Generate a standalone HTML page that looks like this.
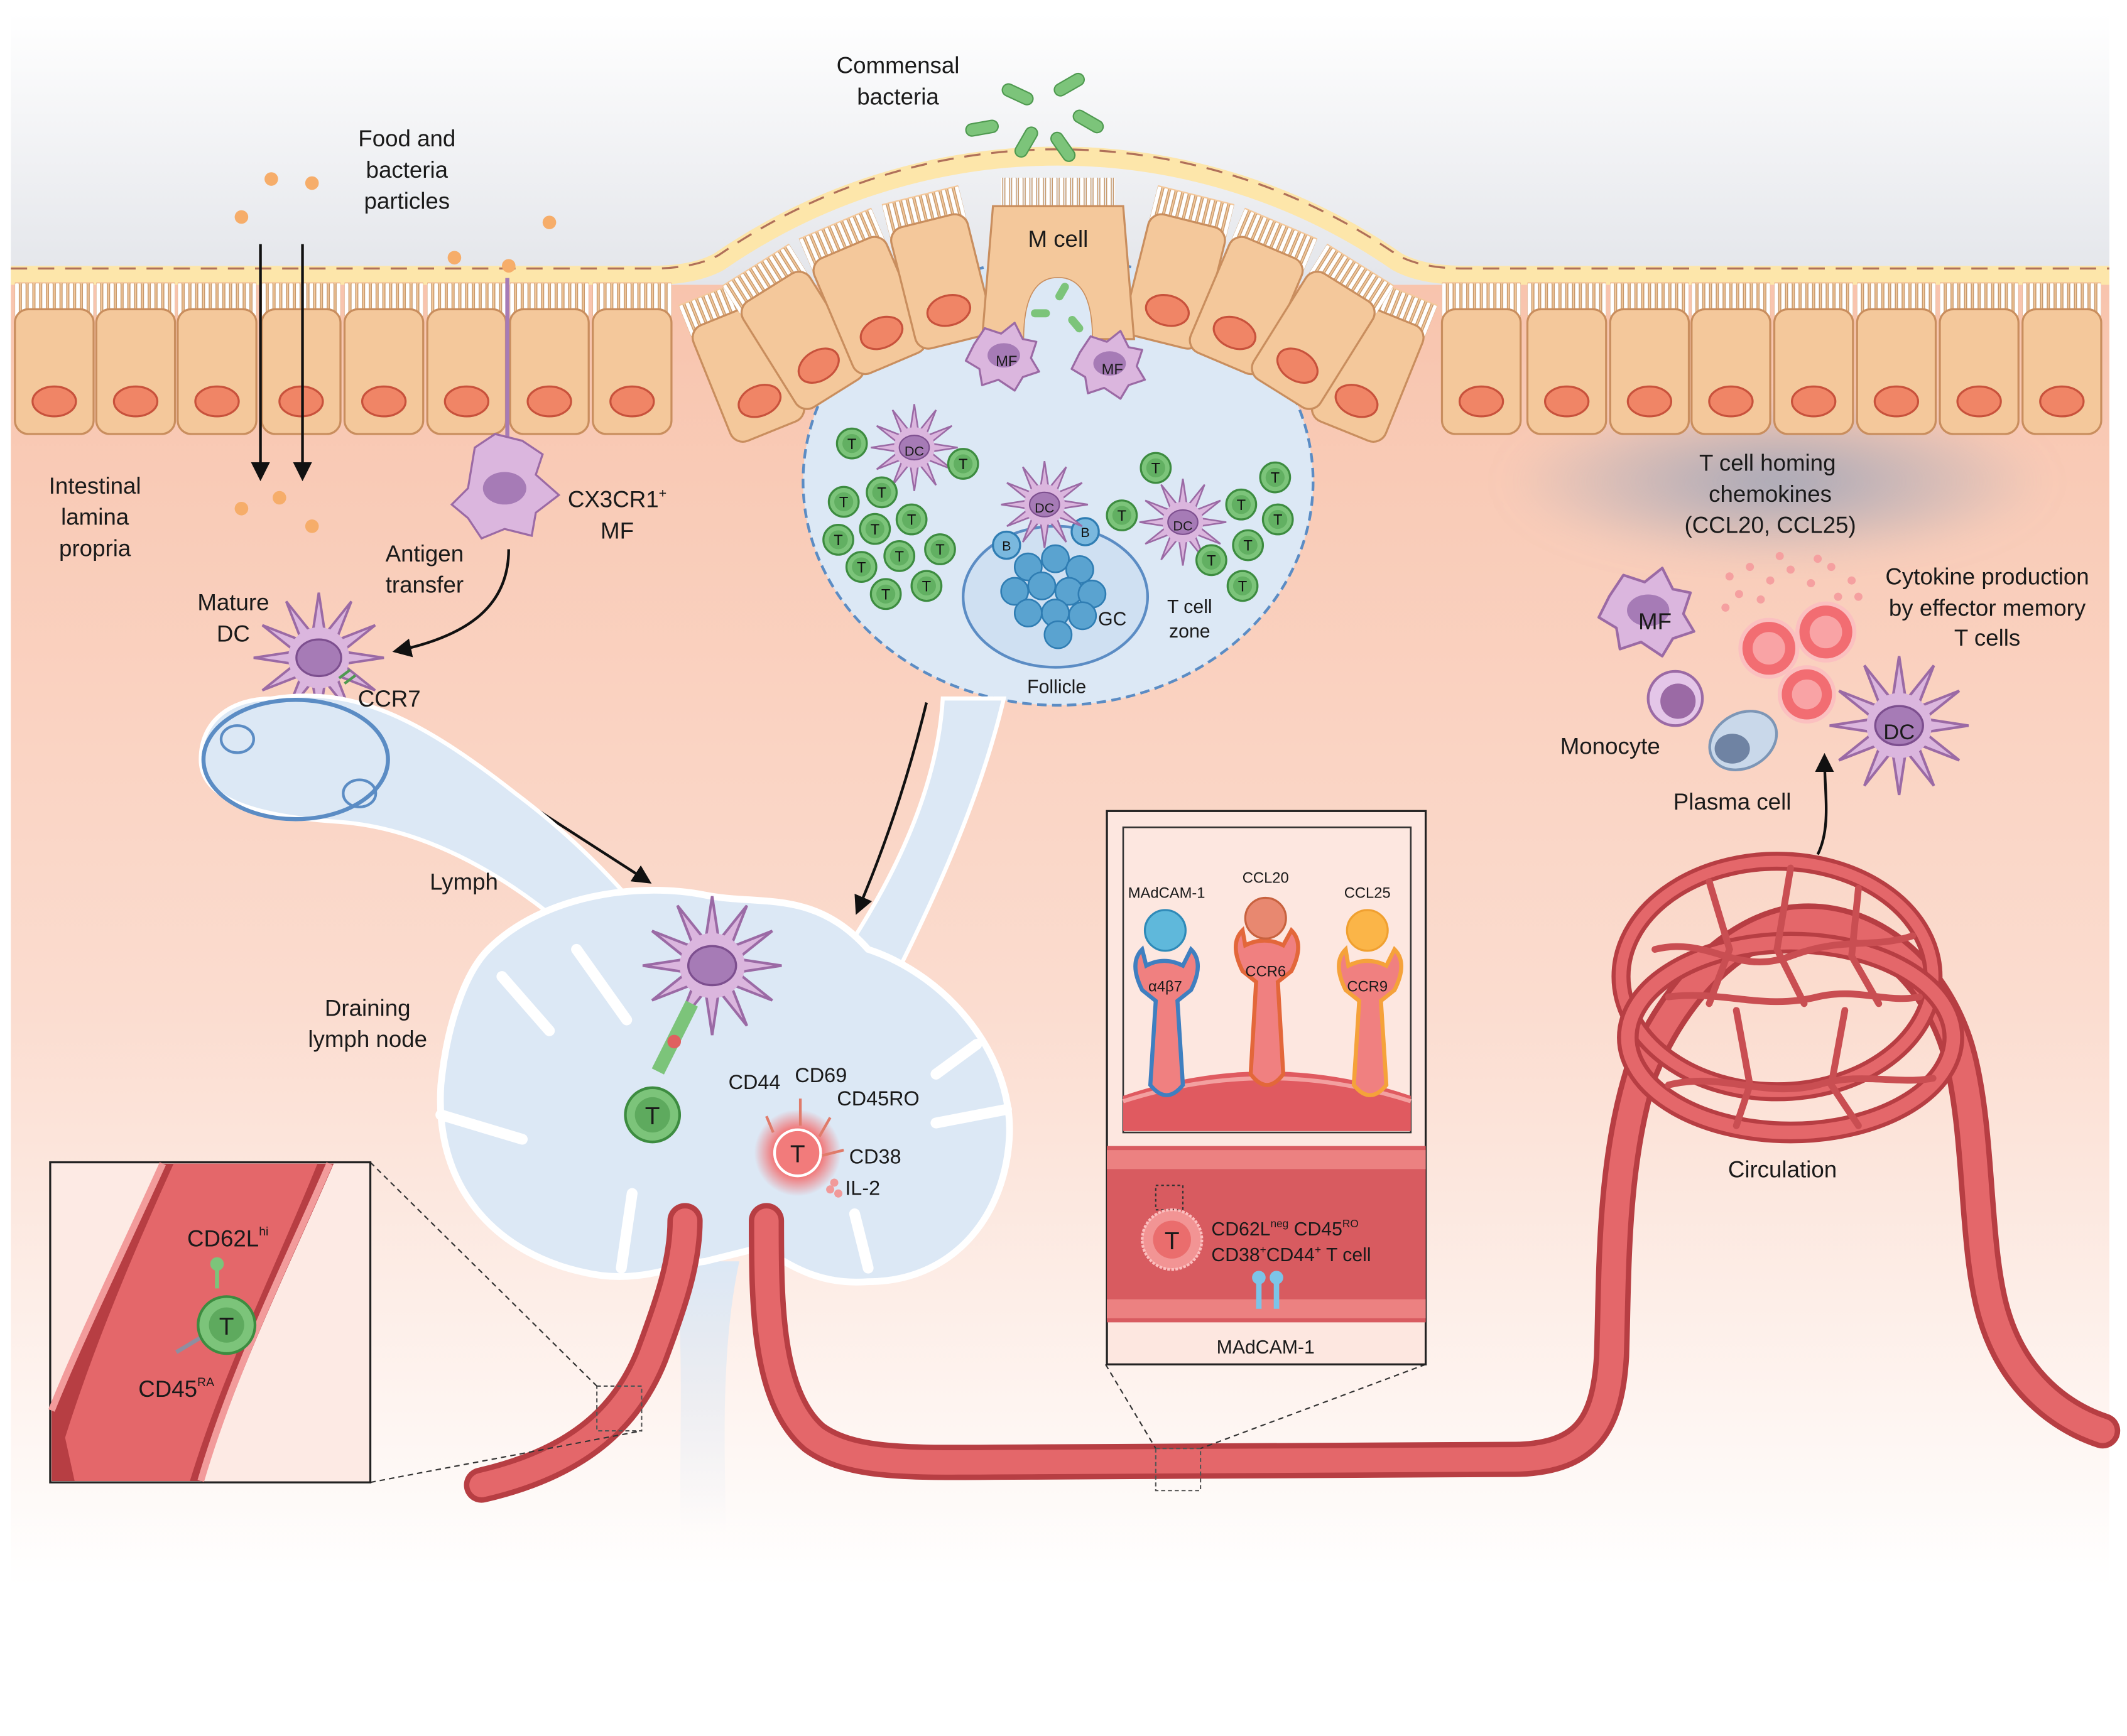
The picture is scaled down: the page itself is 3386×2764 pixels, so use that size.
<!DOCTYPE html>
<html><head><meta charset="utf-8"><style>
html,body{margin:0;padding:0;background:#fff;}
svg{display:block;}
text{font-family:"Liberation Sans",sans-serif;fill:#1a1a1a;}
</style></head><body>
<svg width="3386" height="2764" viewBox="0 0 1568 1280" preserveAspectRatio="none" xmlns="http://www.w3.org/2000/svg">
<defs>
<linearGradient id="sky" x1="0" y1="0" x2="0" y2="1"><stop offset="0" stop-color="#ffffff"/><stop offset="1" stop-color="#e3e5ea"/></linearGradient>
<linearGradient id="lam" x1="0" y1="0" x2="0" y2="1"><stop offset="0" stop-color="#f8c4ad"/><stop offset="0.55" stop-color="#fbdccf"/><stop offset="1" stop-color="#ffffff"/></linearGradient>
<linearGradient id="eff" x1="0" y1="0" x2="0" y2="1"><stop offset="0" stop-color="#dce8f5"/><stop offset="1" stop-color="#dce8f5" stop-opacity="0"/></linearGradient>
<radialGradient id="cloud"><stop offset="0" stop-color="#9aa3b8" stop-opacity="0.9"/><stop offset="1" stop-color="#9aa3b8" stop-opacity="0"/></radialGradient>
<radialGradient id="redglow"><stop offset="0.5" stop-color="#f46a6a"/><stop offset="1" stop-color="#f46a6a" stop-opacity="0"/></radialGradient>
<pattern id="mv" patternUnits="userSpaceOnUse" width="5" height="26"><rect x="0.8" y="0" width="3.4" height="26" rx="1.7" fill="#fff" stroke="#c79a6e" stroke-width="0.7"/></pattern>
<g id="cell">
 <rect x="-29" y="0" width="58" height="26" fill="#f4c89b"/>
 <rect x="-29" y="1" width="58" height="24" fill="url(#mv)"/>
 <rect x="-29" y="20" width="58" height="92" rx="10" fill="#f4c89b" stroke="#c98e5e" stroke-width="1.5"/>
 <ellipse cx="0" cy="88" rx="16" ry="11" fill="#f08566" stroke="#c8523c" stroke-width="1.5"/>
</g>
<g id="tc"><circle r="11" fill="#7cc47a" stroke="#3d8c40" stroke-width="1.5"/><circle r="7" fill="#62b062"/><text y="4" text-anchor="middle" font-size="11" style="fill:#111">T</text></g>
<g id="bc"><circle r="10" fill="#7ab8de" stroke="#2f7db3" stroke-width="1.5"/><text y="4" text-anchor="middle" font-size="10" style="fill:#111">B</text></g>
<g id="gcb"><circle r="10" fill="#5aa3d0" stroke="#2f7db3" stroke-width="1.2"/></g>
<g id="dc"><path d="M32,0 L11.6,3.1 L27.7,16 L8.5,8.5 L16,27.7 L3.1,11.6 L0,32 L-3.1,11.6 L-16,27.7 L-8.5,8.5 L-27.7,16 L-11.6,3.1 L-32,0 L-11.6,-3.1 L-27.7,-16 L-8.5,-8.5 L-16,-27.7 L-3.1,-11.6 L0,-32 L3.1,-11.6 L16,-27.7 L8.5,-8.5 L27.7,-16 L11.6,-3.1 Z" fill="#dbb6de" stroke="#9b6aa5" stroke-width="1.2"/><circle r="15" fill="#dbb6de"/><ellipse rx="11" ry="9" fill="#a67bb6" stroke="#7d4f8f"/></g>
<g id="mf"><path d="M-22,-8 L-14,-20 L-2,-16 L8,-24 L14,-12 L24,-10 L20,2 L26,12 L14,16 L8,26 L-4,18 L-16,22 L-18,10 L-28,4 Z" fill="#dbb6de" stroke="#9b6aa5" stroke-width="1.5" stroke-linejoin="round"/><ellipse rx="12" ry="9" fill="#a67bb6"/></g>
<marker id="ah" viewBox="0 0 10 10" refX="8" refY="5" markerWidth="7" markerHeight="7" orient="auto"><path d="M0,0 L10,5 L0,10 z" fill="#111"/></marker>
<filter id="blur"><feGaussianBlur stdDeviation="12"/></filter>
</defs>

<rect x="8" y="10" width="1547" height="200" fill="url(#sky)"/>
<rect x="8" y="210" width="1547" height="960" fill="url(#lam)"/>

<ellipse cx="1310" cy="355" rx="200" ry="60" fill="url(#cloud)" filter="url(#blur)"/>

<path d="M8,203 L480,203 Q512,203 530,193 A440,440 0 0 1 1030,193 Q1048,203 1080,203 L1555,203" fill="none" stroke="#fde6aa" stroke-width="14"/>
<path d="M8,198 L480,198 Q512,198 530,188 A440,440 0 0 1 1030,188 Q1048,198 1080,198 L1555,198" fill="none" stroke="#b0705a" stroke-width="1.5" stroke-dasharray="12,8"/>

<ellipse cx="780" cy="355" rx="188" ry="165" fill="#dce8f5" stroke="#5b8cc4" stroke-width="2" stroke-dasharray="7,4"/>

<path d="M695,515 C690,600 640,680 600,735 L650,740 C680,680 720,600 740,515 Z" fill="#dce8f5" stroke="#fff" stroke-width="3"/>

<!-- dome cells -->
<use href="#cell" transform="translate(527,214) rotate(-22)"/>
<use href="#cell" transform="translate(1033,214) rotate(22)"/>
<use href="#cell" transform="translate(780,552) rotate(-32) translate(0,-421)"/>
<use href="#cell" transform="translate(780,552) rotate(-23) translate(0,-421)"/>
<use href="#cell" transform="translate(780,552) rotate(-14) translate(0,-421)"/>
<use href="#cell" transform="translate(780,552) rotate(14) translate(0,-421)"/>
<use href="#cell" transform="translate(780,552) rotate(23) translate(0,-421)"/>
<use href="#cell" transform="translate(780,552) rotate(32) translate(0,-421)"/>
<!-- flat cells -->
<use href="#cell" transform="translate(40,208)"/>
<use href="#cell" transform="translate(100,208)"/>
<use href="#cell" transform="translate(160,208)"/>
<use href="#cell" transform="translate(222,208)"/>
<use href="#cell" transform="translate(283,208)"/>
<use href="#cell" transform="translate(344,208)"/>
<use href="#cell" transform="translate(405,208)"/>
<use href="#cell" transform="translate(466,208)"/>
<use href="#cell" transform="translate(1092,208)"/>
<use href="#cell" transform="translate(1155,208)"/>
<use href="#cell" transform="translate(1216,208)"/>
<use href="#cell" transform="translate(1276,208)"/>
<use href="#cell" transform="translate(1337,208)"/>
<use href="#cell" transform="translate(1398,208)"/>
<use href="#cell" transform="translate(1459,208)"/>
<use href="#cell" transform="translate(1520,208)"/>
<!-- M cell -->
<rect x="738" y="131" width="84" height="26" fill="url(#mv)"/>
<path d="M732,152 L828,152 L836,250 L805,250 Q805,205 780,205 Q755,205 755,250 L724,250 Z" fill="#f4c89b" stroke="#c98e5e" stroke-width="1.5"/>
<path d="M755,250 Q755,205 780,205 Q805,205 805,250 Z" fill="#dce8f5"/>
<text x="780" y="182" text-anchor="middle" font-size="17">M cell</text>

<!-- follicle contents -->
<ellipse cx="778" cy="440" rx="68" ry="52" fill="#cfe0f2" stroke="#5b8cc4" stroke-width="2"/>
<use href="#gcb" x="758" y="418"/><use href="#gcb" x="778" y="412"/><use href="#gcb" x="796" y="420"/><use href="#gcb" x="748" y="436"/><use href="#gcb" x="768" y="432"/><use href="#gcb" x="788" y="436"/><use href="#gcb" x="805" y="438"/><use href="#gcb" x="758" y="452"/><use href="#gcb" x="778" y="452"/><use href="#gcb" x="798" y="454"/><use href="#gcb" x="780" y="468"/>
<use href="#bc" x="742" y="402"/><use href="#bc" x="800" y="392"/>
<use href="#dc" x="674" y="330"/>
<use href="#dc" x="770" y="372"/>
<use href="#dc" x="872" y="385"/>
<text x="674" y="336" text-anchor="middle" font-size="10">DC</text>
<text x="770" y="378" text-anchor="middle" font-size="10">DC</text>
<text x="872" y="391" text-anchor="middle" font-size="10">DC</text>
<use href="#tc" x="628" y="327"/><use href="#tc" x="710" y="342"/>
<use href="#tc" x="622" y="370"/><use href="#tc" x="650" y="363"/><use href="#tc" x="645" y="390"/><use href="#tc" x="672" y="383"/><use href="#tc" x="618" y="398"/><use href="#tc" x="693" y="405"/><use href="#tc" x="663" y="410"/><use href="#tc" x="635" y="418"/><use href="#tc" x="683" y="432"/><use href="#tc" x="653" y="438"/>
<use href="#tc" x="852" y="345"/><use href="#tc" x="827" y="380"/><use href="#tc" x="940" y="352"/><use href="#tc" x="915" y="372"/><use href="#tc" x="942" y="383"/><use href="#tc" x="920" y="402"/><use href="#tc" x="893" y="413"/><use href="#tc" x="916" y="432"/>
<text x="820" y="461" text-anchor="middle" font-size="14">GC</text>
<text x="877" y="452" text-anchor="middle" font-size="14">T cell</text>
<text x="877" y="470" text-anchor="middle" font-size="14">zone</text>
<text x="779" y="511" text-anchor="middle" font-size="14">Follicle</text>
<use href="#mf" x="740" y="262"/><text x="742" y="270" text-anchor="middle" font-size="11">MF</text>
<use href="#mf" x="818" y="268"/><text x="820" y="276" text-anchor="middle" font-size="11">MF</text>
<rect x="780" y="208" width="6" height="14" rx="3" fill="#7cc47a" transform="rotate(30 783 215)"/>
<rect x="760" y="228" width="14" height="6" rx="3" fill="#7cc47a"/>
<rect x="790" y="232" width="6" height="14" rx="3" fill="#7cc47a" transform="rotate(-40 793 239)"/>

<g fill="#7cc47a" stroke="#4f9a50" stroke-width="1">
<rect x="738" y="65" width="24" height="9" rx="4.5" transform="rotate(25 750 70)"/>
<rect x="776" y="58" width="24" height="9" rx="4.5" transform="rotate(-30 788 62)"/>
<rect x="712" y="90" width="24" height="9" rx="4.5" transform="rotate(-10 724 95)"/>
<rect x="790" y="85" width="24" height="9" rx="4.5" transform="rotate(30 802 90)"/>
<rect x="745" y="100" width="24" height="9" rx="4.5" transform="rotate(-60 757 105)"/>
<rect x="772" y="104" width="24" height="9" rx="4.5" transform="rotate(55 784 108)"/>
</g>

<g fill="#f6ad6a">
<circle cx="200" cy="132" r="5"/><circle cx="230" cy="135" r="5"/><circle cx="178" cy="160" r="5"/><circle cx="405" cy="164" r="5"/><circle cx="335" cy="190" r="5"/><circle cx="375" cy="196" r="5"/>
<circle cx="178" cy="375" r="5"/><circle cx="206" cy="367" r="5"/><circle cx="230" cy="388" r="5"/>
</g>

<path d="M374,205 L374,325" stroke="#a67bb6" stroke-width="3"/>
<path d="M350,330 L365,320 L385,325 L400,335 L395,350 L412,365 L395,378 L392,395 L372,390 L355,397 L345,382 L333,372 L345,360 Z" fill="#dbb6de" stroke="#9b6aa5" stroke-width="1.5"/>
<ellipse cx="372" cy="360" rx="16" ry="12" fill="#a67bb6"/>
<use href="#dc" transform="translate(235,485) scale(1.5)"/>
<path d="M250,500 l8,-6 m-4,10 l8,-6" stroke="#4f9a50" stroke-width="2"/>

<g stroke="#111" stroke-width="2" fill="none" marker-end="url(#ah)">
<path d="M192,180 L192,352"/><path d="M223,180 L223,352"/>
<path d="M375,405 C375,450 340,470 292,480"/>
<path d="M315,545 L478,650"/>
<path d="M683,518 C668,580 650,630 632,672"/>
<path d="M508,912 C508,880 500,860 485,848"/>
<path d="M508,828 L550,833"/>
<path d="M575,863 C570,880 568,895 567,915"/>
<path d="M1340,630 C1350,610 1345,585 1345,558"/>
</g>

<path d="M200,515 C260,505 310,530 380,585 C420,615 455,650 478,680 L440,705 C400,665 330,612 250,606 C190,602 148,590 148,560 C148,530 172,515 200,515 Z" fill="#dce8f5" stroke="#fff" stroke-width="3"/>
<ellipse cx="218" cy="560" rx="68" ry="44" fill="none" stroke="#5b8cc4" stroke-width="3"/>
<ellipse cx="175" cy="545" rx="12" ry="10" fill="none" stroke="#5b8cc4" stroke-width="2"/>
<ellipse cx="265" cy="585" rx="12" ry="10" fill="none" stroke="#5b8cc4" stroke-width="2"/>

<path d="M498,930 C505,1000 500,1080 502,1130 L535,1130 C535,1080 530,1000 545,930 Z" fill="url(#eff)"/>

<path d="M360,700 C400,660 470,650 520,660 C560,668 600,655 640,700 C700,720 748,780 744,840 C740,900 700,945 640,945 C600,948 580,930 560,920 L520,930 C500,932 470,948 430,938 C370,925 320,880 325,800 C330,750 345,715 360,700 Z" fill="#dce8f5" stroke="#fff" stroke-width="5"/>
<g stroke="#fff" stroke-width="8" stroke-linecap="round" fill="none">
<path d="M325,822 L385,840"/><path d="M425,700 L462,752"/><path d="M742,818 L690,828"/><path d="M458,935 L466,880"/><path d="M720,770 L690,792"/><path d="M370,720 L405,760"/><path d="M640,935 L630,895"/>
</g>

<use href="#dc" transform="translate(525,712) scale(1.6)"/>
<path d="M485,790 L510,740" stroke="#7cc47a" stroke-width="10"/>
<circle cx="497" cy="768" r="5" fill="#e06060"/>
<circle cx="481" cy="822" r="20" fill="#7cc47a" stroke="#3d8c40" stroke-width="2"/><circle cx="481" cy="822" r="13" fill="#5eaa5e"/>
<text x="481" y="829" text-anchor="middle" font-size="18">T</text>
<circle cx="588" cy="850" r="32" fill="url(#redglow)"/>
<circle cx="588" cy="850" r="17" fill="#f27b7b" stroke="#fff" stroke-width="2"/>
<text x="588" y="857" text-anchor="middle" font-size="18">T</text>
<g stroke="#e07b6a" stroke-width="2"><path d="M570,835 l-5,-12"/><path d="M590,830 l0,-20"/><path d="M604,838 l8,-14"/><path d="M606,852 l16,-4"/></g>
<circle cx="612" cy="877" r="3" fill="#f19a9a"/><circle cx="618" cy="880" r="3" fill="#f19a9a"/><circle cx="615" cy="872" r="3" fill="#f19a9a"/>
<g font-size="15">
<text x="537" y="803">CD44</text><text x="586" y="798">CD69</text><text x="617" y="815">CD45RO</text><text x="626" y="858">CD38</text><text x="623" y="881">IL-2</text>
</g>

<g fill="none" stroke-linecap="round">
<path d="M355,1095 C420,1080 460,1050 480,1000 C495,960 505,930 505,900" stroke="#b73e43" stroke-width="26"/>
<path d="M355,1095 C420,1080 460,1050 480,1000 C495,960 505,930 505,900" stroke="#e4676a" stroke-width="18"/>
<path d="M565,900 C565,960 565,1030 600,1060 C630,1082 680,1078 760,1078 L1120,1076 C1170,1074 1185,1050 1188,1000 C1190,940 1188,860 1210,790 C1230,740 1270,690 1320,680 C1380,672 1430,720 1445,780 C1460,840 1455,920 1470,970 C1485,1020 1520,1045 1550,1055" stroke="#b73e43" stroke-width="26"/>
<path d="M565,900 C565,960 565,1030 600,1060 C630,1082 680,1078 760,1078 L1120,1076 C1170,1074 1185,1050 1188,1000 C1190,940 1188,860 1210,790 C1230,740 1270,690 1320,680 C1380,672 1430,720 1445,780 C1460,840 1455,920 1470,970 C1485,1020 1520,1045 1550,1055" stroke="#e4676a" stroke-width="18"/>
<ellipse cx="1310" cy="720" rx="115" ry="85" stroke="#b73e43" stroke-width="14"/>
<ellipse cx="1310" cy="720" rx="115" ry="85" stroke="#e4676a" stroke-width="8"/>
<ellipse cx="1320" cy="765" rx="120" ry="70" stroke="#b73e43" stroke-width="16"/>
<ellipse cx="1320" cy="765" rx="120" ry="70" stroke="#e4676a" stroke-width="10"/>
<g stroke="#c94e52" stroke-width="5">
<path d="M1220,700 C1260,690 1280,720 1320,705 C1360,690 1380,700 1410,690"/>
<path d="M1230,735 C1270,730 1300,745 1340,735 C1370,728 1390,740 1415,735"/>
<path d="M1260,650 L1275,700 L1260,740"/><path d="M1320,640 L1310,700 L1330,740"/><path d="M1370,655 L1365,705 L1385,740"/>
<path d="M1230,800 C1270,790 1300,810 1340,800 C1370,790 1400,800 1425,795"/>
<path d="M1280,745 L1290,800 L1280,830"/><path d="M1360,745 L1350,800 L1370,830"/>
</g>
</g>
<text x="1314" y="868" text-anchor="middle" font-size="17">Circulation</text>
<rect x="852" y="1068" width="33" height="31" fill="none" stroke="#555" stroke-dasharray="3,2"/>
<rect x="440" y="1022" width="33" height="33" fill="none" stroke="#555" stroke-dasharray="3,2"/>
<g stroke="#333" stroke-width="1" stroke-dasharray="4,3">
<path d="M273,857 L440,1022"/><path d="M273,1093 L473,1055"/>
<path d="M815,1006 L852,1068"/><path d="M1051,1006 L885,1068"/>
</g>

<!-- left inset -->
<rect x="37" y="857" width="236" height="236" fill="#fdeae4" stroke="#222" stroke-width="1.5"/>
<path d="M118,858 C90,920 55,990 38,1040 L38,1092 L150,1092 C175,1010 215,930 246,858 Z" fill="#b73e43"/>
<path d="M128,858 C100,920 70,990 48,1060 L55,1092 L140,1092 C165,1010 205,930 234,858 Z" fill="#e4676a"/>
<path d="M120,858 C92,920 58,990 38,1040" stroke="#f29b9b" stroke-width="5" fill="none"/>
<path d="M243,858 C212,930 172,1010 148,1092" stroke="#f29b9b" stroke-width="5" fill="none"/>
<path d="M160,950 l0,-20" stroke="#7cc47a" stroke-width="3"/><circle cx="160" cy="932" r="5" fill="#7cc47a"/>
<path d="M150,985 l-20,12" stroke="#8e8ea0" stroke-width="3"/>
<circle cx="167" cy="977" r="21" fill="#7cc47a" stroke="#3d8c40" stroke-width="2"/><circle cx="167" cy="977" r="13" fill="#5eaa5e"/>
<text x="167" y="984" text-anchor="middle" font-size="18">T</text>
<text x="138" y="919" font-size="17">CD62L<tspan font-size="9" dy="-8">hi</tspan></text>
<text x="102" y="1030" font-size="17">CD45<tspan font-size="9" dy="-8">RA</tspan></text>

<!-- middle inset -->
<rect x="816" y="598" width="235" height="408" fill="#fde7e0" stroke="#222" stroke-width="1.5"/>
<rect x="816" y="845" width="235" height="130" fill="#d85b60"/>
<rect x="816" y="848" width="235" height="14" fill="#ec8181"/>
<rect x="816" y="958" width="235" height="14" fill="#ec8181"/>
<rect x="828" y="610" width="212" height="225" fill="#fde7e0" stroke="#333" stroke-width="1.2"/>
<path d="M828,808 Q934,772 1040,808 L1040,834 L828,834 Z" fill="#e05a60"/>
<path d="M828,812 Q934,778 1040,812" stroke="#f3a0a0" stroke-width="3" fill="none"/>
<g stroke-width="3" fill="#f08080">
<path d="M845,712 Q858,705 872,712 L878,700 Q888,710 878,730 L868,738 L872,800 Q860,815 848,800 L852,738 L842,730 Q832,710 842,700 Z" stroke="#3f7fc0"/>
<path d="M918,697 Q932,690 946,697 L952,686 Q962,696 952,716 L942,724 L946,792 Q934,808 922,792 L926,724 L916,716 Q906,696 916,686 Z" stroke="#e3673a"/>
<path d="M994,712 Q1008,705 1022,712 L1028,700 Q1038,710 1028,730 L1018,738 L1022,800 Q1010,815 998,800 L1002,738 L992,730 Q982,710 992,700 Z" stroke="#f5a23a"/>
</g>
<circle cx="859" cy="686" r="15" fill="#5fb8db" stroke="#2f8ab8" stroke-width="1.5"/>
<circle cx="933" cy="677" r="15" fill="#e88870" stroke="#c8623f" stroke-width="1.5"/>
<circle cx="1008" cy="686" r="15" fill="#fbb548" stroke="#f0a030" stroke-width="1.5"/>
<g font-size="11" text-anchor="middle">
<text x="860" y="662">MAdCAM-1</text><text x="933" y="651">CCL20</text><text x="1008" y="662">CCL25</text>
<text x="859" y="731">α4β7</text><text x="933" y="720">CCR6</text><text x="1008" y="731">CCR9</text>
</g>
<rect x="852" y="874" width="20" height="18" fill="none" stroke="#333" stroke-dasharray="2,2"/>
<circle cx="864" cy="914" r="22" fill="#f29494" stroke="#fbc0c0" stroke-width="2" stroke-dasharray="2,1"/>
<circle cx="864" cy="914" r="14" fill="#ea6d6d"/>
<text x="864" y="921" text-anchor="middle" font-size="18">T</text>
<text x="893" y="911" font-size="14">CD62L<tspan font-size="8" dy="-6">neg</tspan><tspan dy="6"> CD45</tspan><tspan font-size="8" dy="-6">RO</tspan></text>
<text x="893" y="930" font-size="14">CD38<tspan font-size="8" dy="-6">+</tspan><tspan dy="6">CD44</tspan><tspan font-size="8" dy="-6">+</tspan><tspan dy="6"> T cell</tspan></text>
<g fill="#7cc4e8"><circle cx="928" cy="942" r="5"/><circle cx="941" cy="942" r="5"/><rect x="926" y="945" width="4" height="20"/><rect x="939" y="945" width="4" height="20"/></g>
<text x="933" y="998" text-anchor="middle" font-size="14">MAdCAM-1</text>

<!-- right cells -->
<use href="#mf" transform="translate(1215,450) scale(1.3)"/>
<text x="1220" y="464" text-anchor="middle" font-size="17">MF</text>
<g fill="#f5a0a0">
<circle cx="1275" cy="425" r="3"/><circle cx="1290" cy="418" r="3"/><circle cx="1305" cy="428" r="3"/><circle cx="1320" cy="420" r="3"/><circle cx="1335" cy="430" r="3"/><circle cx="1350" cy="418" r="3"/><circle cx="1365" cy="428" r="3"/><circle cx="1282" cy="438" r="3"/><circle cx="1298" cy="442" r="3"/><circle cx="1355" cy="440" r="3"/><circle cx="1370" cy="440" r="3"/><circle cx="1340" cy="412" r="3"/><circle cx="1312" cy="410" r="3"/><circle cx="1272" cy="448" r="3"/>
</g>
<g stroke="#fbc0c0" stroke-width="3" fill="#f26d72">
<circle cx="1304" cy="478" r="21"/><circle cx="1346" cy="466" r="21"/><circle cx="1332" cy="512" r="20"/>
</g>
<g fill="#f9a3a5"><circle cx="1304" cy="478" r="12"/><circle cx="1346" cy="466" r="12"/><circle cx="1332" cy="512" r="11"/></g>
<circle cx="1235" cy="515" r="20" fill="#e4c6e8" stroke="#9b6aa5" stroke-width="2"/><circle cx="1237" cy="517" r="13" fill="#9b6aa5"/>
<ellipse cx="1285" cy="546" rx="26" ry="20" fill="#c9d8ea" stroke="#7d96b6" stroke-width="2" transform="rotate(-30 1285 546)"/>
<ellipse cx="1277" cy="552" rx="13" ry="11" fill="#6f83a3"/>
<use href="#dc" transform="translate(1400,535) scale(1.6)"/>
<text x="1400" y="545" text-anchor="middle" font-size="16">DC</text>

<g font-size="17" text-anchor="middle">
<text x="662" y="54">Commensal</text><text x="662" y="77">bacteria</text>
<text x="300" y="108">Food and</text><text x="300" y="131">bacteria</text><text x="300" y="154">particles</text>
<text x="70" y="364">Intestinal</text><text x="70" y="387">lamina</text><text x="70" y="410">propria</text>
<text x="455" y="374">CX3CR1<tspan font-size="10" dy="-7">+</tspan></text><text x="455" y="397">MF</text>
<text x="313" y="414">Antigen</text><text x="313" y="437">transfer</text>
<text x="172" y="450">Mature</text><text x="172" y="473">DC</text>
<text x="287" y="521">CCR7</text>
<text x="342" y="656">Lymph</text>
<text x="271" y="749">Draining</text><text x="271" y="772">lymph node</text>
<text x="1303" y="347">T cell homing</text><text x="1305" y="370">chemokines</text><text x="1305" y="393">(CCL20, CCL25)</text>
<text x="1465" y="431">Cytokine production</text><text x="1465" y="454">by effector memory</text><text x="1465" y="476">T cells</text>
<text x="1187" y="556">Monocyte</text>
<text x="1277" y="597">Plasma cell</text>
</g>
</svg>
</body></html>
